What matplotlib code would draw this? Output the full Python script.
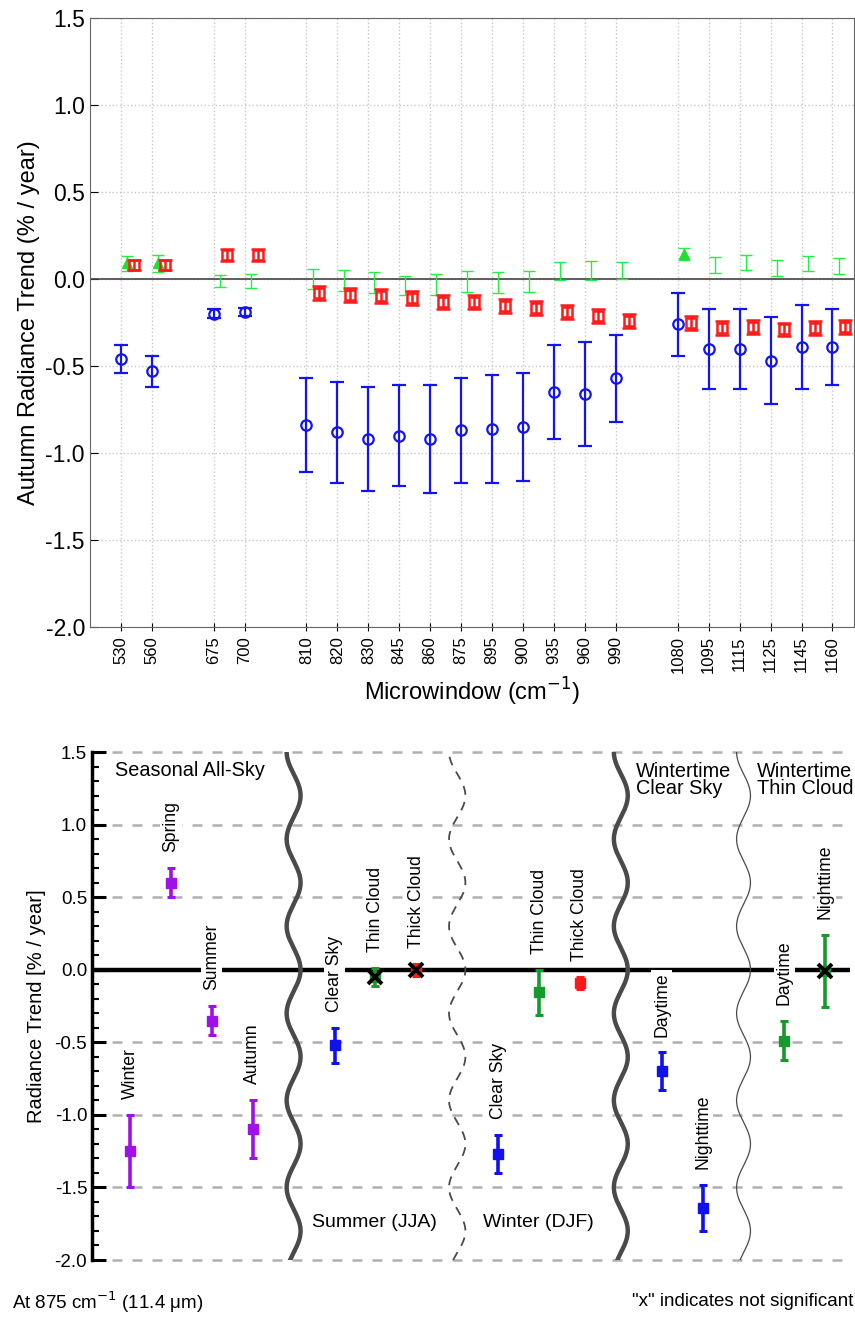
import numpy as np
import matplotlib.pyplot as plt
from matplotlib.ticker import MultipleLocator, FormatStrFormatter

plt.rcParams['font.family'] = ['Liberation Sans', 'DejaVu Sans']
plt.rcParams['axes.unicode_minus'] = False

# ---- top panel data: autumn trend per microwindow ----
windows = ['530', '560', '675', '700', '810', '820', '830', '845', '860', '875', '895',
           '900', '935', '960', '990', '1080', '1095', '1115', '1125', '1145', '1160']
win_pos = [1, 2, 4, 5, 7, 8, 9, 10, 11, 12, 13, 14, 15, 16, 17, 19, 20, 21, 22, 23, 24]

blue_val = [-0.46, -0.53, -0.20, -0.19, -0.84, -0.88, -0.92, -0.90, -0.92, -0.87, -0.86,
            -0.85, -0.65, -0.66, -0.57, -0.26, -0.40, -0.40, -0.47, -0.39, -0.39]
blue_err = [0.08, 0.09, 0.025, 0.025, 0.27, 0.29, 0.30, 0.29, 0.31, 0.30, 0.31,
            0.31, 0.27, 0.30, 0.25, 0.18, 0.23, 0.23, 0.25, 0.24, 0.22]

red_val = [0.08, 0.08, 0.14, 0.14, -0.08, -0.09, -0.10, -0.11, -0.13, -0.13, -0.155,
           -0.165, -0.19, -0.215, -0.24, -0.255, -0.28, -0.275, -0.29, -0.28, -0.275]
red_err = [0.03, 0.03, 0.035, 0.035, 0.04, 0.04, 0.04, 0.04, 0.04, 0.04, 0.04,
           0.04, 0.04, 0.04, 0.04, 0.04, 0.04, 0.04, 0.04, 0.04, 0.04]

green_val = [0.09, 0.09, -0.01, -0.01, 0.0, -0.01, -0.02, -0.035, -0.03, -0.015, -0.02,
             -0.015, 0.045, 0.05, 0.05, 0.145, 0.08, 0.095, 0.065, 0.09, 0.075]
green_err = [0.045, 0.05, 0.035, 0.04, 0.06, 0.06, 0.06, 0.055, 0.06, 0.06, 0.06,
             0.06, 0.05, 0.055, 0.05, 0.035, 0.045, 0.045, 0.045, 0.045, 0.045]
green_sig = [1, 1, 0, 0, 0, 0, 0, 0, 0, 0, 0, 0, 0, 0, 0, 1, 0, 0, 0, 0, 0]

# ---- bottom panel data: trends at 875 cm-1 ----
cats = ['Winter', 'Spring', 'Summer', 'Autumn', 'Clear Sky', 'Thin Cloud', 'Thick Cloud',
        'Clear Sky', 'Thin Cloud', 'Thick Cloud', 'Daytime', 'Nighttime', 'Daytime', 'Nighttime']
cat_pos = [1, 2, 3, 4, 6, 7, 8, 10, 11, 12, 14, 15, 17, 18]
vals = [-1.25, 0.60, -0.35, -1.10, -0.52, -0.05, 0.0, -1.27, -0.155, -0.09, -0.70, -1.64, -0.49, -0.01]
errs = [0.25, 0.10, 0.10, 0.20, 0.12, 0.06, 0.04, 0.13, 0.155, 0.04, 0.13, 0.16, 0.135, 0.25]
kinds = ['season'] * 4 + ['clear', 'thin', 'thick', 'clear', 'thin', 'thick',
                          'clear', 'clear', 'thin', 'thin']
not_sig = [0, 0, 0, 0, 0, 1, 1, 0, 0, 0, 0, 0, 0, 1]
kind_color = {'season': '#a010e8', 'clear': '#1010f0', 'thin': '#159a2e', 'thick': '#ff1a1a'}

fig = plt.figure(figsize=(8.55, 13.18), dpi=100)

# ================= top panel =================
ax1 = fig.add_axes([0.105, 0.5243, 0.894, 0.4620])
xp = np.array(win_pos, dtype=float)
ax1.axhline(0, color='#444444', lw=1.2, zorder=1)
ax1.errorbar(xp, blue_val, yerr=blue_err, fmt='o', color='#1414f0', mfc='none', ms=7.5,
             mew=1.6, lw=1.6, capsize=5, capthick=1.6, zorder=3)
ax1.errorbar(xp + 0.42, red_val, yerr=red_err, fmt='s', color='#ff1a1a', mfc='none', ms=6.5,
             mew=1.8, lw=1.8, capsize=5, capthick=1.8, zorder=4)
ax1.errorbar(xp + 0.2, green_val, yerr=green_err, fmt='none', ecolor='#22ee44', lw=1.0,
             capsize=4.5, capthick=1.0, zorder=2)
gx = [p + 0.2 for p, s in zip(win_pos, green_sig) if s]
gy = [v for v, s in zip(green_val, green_sig) if s]
ax1.plot(gx, gy, '^', color='#22dd33', ms=7, zorder=2)

ax1.set_xlim(0, 24.7)
ax1.set_ylim(-2.0, 1.5)
ax1.set_xticks(win_pos)
ax1.set_xticklabels(windows, rotation=90, fontsize=12)
ax1.yaxis.set_major_locator(MultipleLocator(0.5))
ax1.yaxis.set_major_formatter(FormatStrFormatter('%.1f'))
ax1.tick_params(axis='y', labelsize=16.5, direction='in', length=6)
ax1.tick_params(axis='x', direction='inout', length=6)
ax1.grid(True, ls=':', color='#c8c8c8', lw=1.0)
ax1.set_axisbelow(True)
for s in ax1.spines.values():
    s.set_color('#666666')
ax1.set_ylabel('Autumn Radiance Trend (% / year)', fontsize=17, labelpad=4)
ax1.set_xlabel('Microwindow (cm$^{-1}$)', fontsize=17, labelpad=2)

# ================= bottom panel =================
ax2 = fig.add_axes([0.1076, 0.044, 0.8864, 0.3854])
ax2.set_xlim(0.071, 18.6)
ax2.set_ylim(-2.0, 1.5)
for yv in np.arange(-2.0, 1.51, 0.5):
    if abs(yv) > 1e-9:
        ax2.axhline(yv, color='#b0b0b0', lw=1.8, ls=(0, (4, 4)), zorder=0, clip_on=False)
ax2.axhline(0, color='black', lw=3.2, zorder=1)

# section dividers
yy = np.linspace(-2.0, 1.5, 500)
wave = np.cos(2 * np.pi * yy / 0.6)
ax2.plot(5 + 0.17 * wave, yy, color='#4a4a4a', lw=3.2, zorder=2)
ax2.plot(9 + 0.2 * wave, yy, color='#4a4a4a', lw=1.3, ls=(0, (5, 4)), zorder=2)
ax2.plot(13 + 0.17 * wave, yy, color='#4a4a4a', lw=3.2, zorder=2)
ax2.plot(16 + 0.17 * wave, yy, color='#4a4a4a', lw=0.9, zorder=2)

for x, v, e, k, ns, name in zip(cat_pos, vals, errs, kinds, not_sig, cats):
    c = kind_color[k]
    ax2.errorbar(x, v, yerr=e, fmt='s', color=c, ms=6.5, lw=2.6, capsize=3,
                 capthick=2.2, zorder=4)
    if ns:
        ax2.plot(x, v, 'x', color='black', ms=10, mew=2.8, zorder=5)
    ax2.text(x, v + e + 0.11, name, rotation=90, ha='center', va='bottom', fontsize=12.7,
             zorder=3, bbox=dict(facecolor='white', edgecolor='none', pad=1.5))

ax2.text(0.63, 1.37, 'Seasonal All-Sky', fontsize=14.3, ha='left', va='center')
ax2.text(13.37, 1.43, 'Wintertime\nClear Sky', fontsize=14.3, ha='left', va='top',
         linespacing=0.88)
ax2.text(16.33, 1.43, 'Wintertime\nThin Cloud', fontsize=14.3, ha='left', va='top',
         linespacing=0.88)
ax2.text(5.45, -1.745, 'Summer (JJA)', fontsize=14, ha='left', va='center')
ax2.text(9.63, -1.745, 'Winter (DJF)', fontsize=14, ha='left', va='center')

ax2.yaxis.set_major_locator(MultipleLocator(0.5))
ax2.yaxis.set_minor_locator(MultipleLocator(0.1))
ax2.yaxis.set_major_formatter(FormatStrFormatter('%.1f'))
ax2.tick_params(axis='y', which='major', direction='in', length=10, width=2.2, labelsize=13.5)
ax2.tick_params(axis='y', which='minor', direction='in', length=5, width=1.5)
ax2.set_xticks([])
for side in ['top', 'right', 'bottom']:
    ax2.spines[side].set_visible(False)
ax2.spines['left'].set_linewidth(2.5)
ax2.set_ylabel('Radiance Trend [% / year]', fontsize=14.5, labelpad=6)

fig.text(12 / 855, 1 - 1302 / 1318, 'At 875 cm$^{-1}$ (11.4 \u03bcm)', fontsize=13.5,
         ha='left', va='center')
fig.text(853 / 855, 1 - 1302 / 1318, '"x" indicates not significant', fontsize=13.5,
         ha='right', va='center')

fig.savefig('out.png', dpi=100)
